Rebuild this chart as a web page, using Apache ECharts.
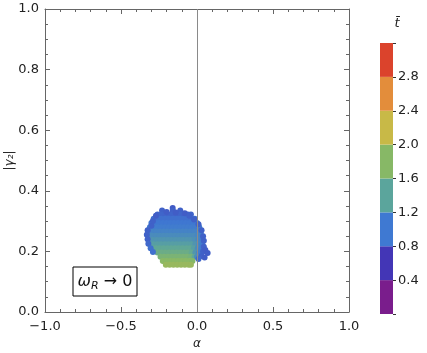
<!DOCTYPE html>
<html>
<head>
<meta charset="utf-8">
<script src="https://cdn.jsdelivr.net/npm/echarts@6.0.0/dist/echarts.min.js"></script>
<style>
  html, body { margin: 0; padding: 0; background: #fff; }
  #main { width: 427px; height: 353px; }
</style>
</head>
<body>
<div id="main"></div>
<script>
// point cloud: [alpha, |gamma2|, tbar]
const cloud = [
  [-0.16, 0.343, 0.7], [-0.23, 0.335, 0.75], [-0.16, 0.335, 0.75], [-0.11, 0.335, 0.75],
  [-0.26, 0.322, 0.78], [-0.235, 0.322, 0.78], [-0.21, 0.322, 0.78], [-0.185, 0.322, 0.78], [-0.16, 0.322, 0.78],
  [-0.135, 0.322, 0.78], [-0.11, 0.322, 0.78], [-0.085, 0.322, 0.78], [-0.06, 0.322, 0.78], [-0.04, 0.322, 0.78],
  [-0.285, 0.308, 0.85], [-0.26, 0.308, 0.85], [-0.235, 0.308, 0.85], [-0.21, 0.308, 0.85], [-0.185, 0.308, 0.85], [-0.16, 0.308, 0.85],
  [-0.135, 0.308, 0.85], [-0.11, 0.308, 0.85], [-0.085, 0.308, 0.85], [-0.06, 0.308, 0.85], [-0.035, 0.308, 0.85], [-0.015, 0.308, 0.85],
  [-0.3, 0.294, 0.9], [-0.275, 0.294, 0.9], [-0.25, 0.294, 0.9], [-0.225, 0.294, 0.9], [-0.2, 0.294, 0.9], [-0.175, 0.294, 0.9], [-0.15, 0.294, 0.9],
  [-0.125, 0.294, 0.9], [-0.1, 0.294, 0.9], [-0.075, 0.294, 0.9], [-0.05, 0.294, 0.9], [-0.025, 0.294, 0.9], [0.0, 0.294, 0.9],
  [-0.31, 0.28, 0.95], [-0.285, 0.28, 0.95], [-0.26, 0.28, 0.95], [-0.235, 0.28, 0.95], [-0.21, 0.28, 0.95], [-0.185, 0.28, 0.95], [-0.16, 0.28, 0.95],
  [-0.135, 0.28, 0.95], [-0.11, 0.28, 0.95], [-0.085, 0.28, 0.95], [-0.06, 0.28, 0.95], [-0.035, 0.28, 0.95], [-0.01, 0.28, 0.95], [0.015, 0.28, 0.95],
  [-0.32, 0.266, 1.02], [-0.295, 0.266, 1.02], [-0.27, 0.266, 1.02], [-0.245, 0.266, 1.02], [-0.22, 0.266, 1.02], [-0.195, 0.266, 1.02], [-0.17, 0.266, 1.02], [-0.145, 0.266, 1.02],
  [-0.12, 0.266, 1.02], [-0.095, 0.266, 1.02], [-0.07, 0.266, 1.02], [-0.045, 0.266, 1.02], [-0.02, 0.266, 1.02], [0.005, 0.266, 1.02], [0.025, 0.266, 1.0],
  [-0.32, 0.252, 1.1], [-0.295, 0.252, 1.1], [-0.27, 0.252, 1.1], [-0.245, 0.252, 1.1], [-0.22, 0.252, 1.1], [-0.195, 0.252, 1.1], [-0.17, 0.252, 1.1], [-0.145, 0.252, 1.1],
  [-0.12, 0.252, 1.1], [-0.095, 0.252, 1.1], [-0.07, 0.252, 1.1], [-0.045, 0.252, 1.1], [-0.02, 0.252, 1.1], [0.005, 0.252, 1.05], [0.03, 0.252, 1.0],
  [-0.315, 0.238, 1.2], [-0.29, 0.238, 1.2], [-0.265, 0.238, 1.2], [-0.24, 0.238, 1.2], [-0.215, 0.238, 1.2], [-0.19, 0.238, 1.2], [-0.165, 0.238, 1.2], [-0.14, 0.238, 1.2],
  [-0.115, 0.238, 1.2], [-0.09, 0.238, 1.2], [-0.065, 0.238, 1.2], [-0.04, 0.238, 1.2], [-0.015, 0.238, 1.15], [0.01, 0.238, 1.05], [0.035, 0.238, 0.95],
  [-0.31, 0.224, 1.3], [-0.285, 0.224, 1.3], [-0.26, 0.224, 1.3], [-0.235, 0.224, 1.3], [-0.21, 0.224, 1.3], [-0.185, 0.224, 1.3], [-0.16, 0.224, 1.3], [-0.135, 0.224, 1.3],
  [-0.11, 0.224, 1.3], [-0.085, 0.224, 1.3], [-0.06, 0.224, 1.3], [-0.035, 0.224, 1.3], [-0.01, 0.224, 1.2], [0.015, 0.224, 1.05], [0.035, 0.224, 0.95],
  [-0.295, 0.21, 1.4], [-0.27, 0.21, 1.42], [-0.245, 0.21, 1.42], [-0.22, 0.21, 1.42], [-0.195, 0.21, 1.42], [-0.17, 0.21, 1.42], [-0.145, 0.21, 1.42],
  [-0.12, 0.21, 1.42], [-0.095, 0.21, 1.42], [-0.07, 0.21, 1.42], [-0.045, 0.21, 1.42], [-0.02, 0.21, 1.3], [0.005, 0.21, 1.1], [0.03, 0.21, 0.95],
  [-0.26, 0.196, 1.55], [-0.235, 0.196, 1.55], [-0.21, 0.196, 1.55], [-0.185, 0.196, 1.55], [-0.16, 0.196, 1.55], [-0.135, 0.196, 1.55],
  [-0.11, 0.196, 1.55], [-0.085, 0.196, 1.55], [-0.06, 0.196, 1.55], [-0.035, 0.196, 1.45], [-0.01, 0.196, 1.2], [0.015, 0.196, 0.95],
  [-0.24, 0.182, 1.7], [-0.215, 0.182, 1.7], [-0.19, 0.182, 1.7], [-0.165, 0.182, 1.7], [-0.14, 0.182, 1.7], [-0.115, 0.182, 1.7],
  [-0.09, 0.182, 1.7], [-0.065, 0.182, 1.7], [-0.04, 0.182, 1.65], [-0.015, 0.182, 1.4], [0.0, 0.182, 1.1],
  [-0.225, 0.168, 1.85], [-0.2, 0.168, 1.85], [-0.175, 0.168, 1.85], [-0.15, 0.168, 1.85], [-0.125, 0.168, 1.85],
  [-0.1, 0.168, 1.85], [-0.075, 0.168, 1.85], [-0.05, 0.168, 1.85], [-0.03, 0.168, 1.8],
  [-0.205, 0.156, 1.95], [-0.18, 0.156, 1.95], [-0.155, 0.156, 1.95], [-0.13, 0.156, 1.95],
  [-0.105, 0.156, 1.95], [-0.08, 0.156, 1.95], [-0.055, 0.156, 1.95], [-0.04, 0.156, 1.95],
  // darker edge points
  [-0.325, 0.27, 0.75], [-0.33, 0.255, 0.75], [-0.325, 0.24, 0.75], [-0.32, 0.225, 0.8], [-0.305, 0.21, 0.85],
  [-0.29, 0.198, 0.85], [-0.3, 0.285, 0.75], [-0.29, 0.3, 0.75],
  [-0.27, 0.318, 0.72], [-0.2, 0.33, 0.72], [-0.14, 0.328, 0.72], [-0.08, 0.326, 0.72], [-0.05, 0.318, 0.75], [-0.02, 0.305, 0.75],
  [0.01, 0.29, 0.75], [0.03, 0.27, 0.75], [0.04, 0.25, 0.75], [0.045, 0.235, 0.75], [0.045, 0.215, 0.75], [0.04, 0.2, 0.75],
  [0.055, 0.205, 0.72], [0.07, 0.195, 0.72], [0.03, 0.185, 0.75], [0.01, 0.175, 0.8], [0.05, 0.18, 0.72]
];

const bandEdges = [0, 0.4, 0.8, 1.2, 1.6, 2.0, 2.4, 2.8, 3.2];
const bandColors = ['#7a1d8c', '#4336b6', '#3f79d2', '#5ba59c', '#87b866', '#c8b947', '#e38d3b', '#db432c'];

const fontFamily = 'DejaVu Sans';
const textColor = '#222';
const frameColor = '#666';

function fmt(v) {
  return (v < 0 ? '\u2212' : '') + Math.abs(v).toFixed(1);
}

const frameAxis = {
  axisLine: { onZero: false, lineStyle: { color: frameColor, width: 1 } },
  axisTick: { inside: true, length: 5, lineStyle: { color: frameColor } },
  splitLine: { show: false }
};

const colorbarSeries = bandColors.map(function (c, i) {
  return {
    type: 'bar',
    stack: 'cb',
    xAxisIndex: 2,
    yAxisIndex: 2,
    barWidth: '100%',
    silent: true,
    data: [bandEdges[i + 1] - bandEdges[i]],
    itemStyle: { color: c }
  };
});

const chart = echarts.init(document.getElementById('main'));
chart.setOption({
  animation: false,
  backgroundColor: '#fff',
  textStyle: { fontFamily: fontFamily },
  grid: [
    { left: 45, right: 78, top: 9, bottom: 41, containLabel: false, outerBoundsMode: 'none' },
    { left: 380, width: 13, top: 43, bottom: 39, containLabel: false, outerBoundsMode: 'none' }
  ],
  xAxis: [
    Object.assign({}, frameAxis, {
      type: 'value', gridIndex: 0, position: 'bottom', min: -1, max: 1, interval: 0.5,
      minorTick: { show: true, splitNumber: 5, length: 3, lineStyle: { color: frameColor } },
      axisLabel: { formatter: fmt, color: textColor, fontSize: 13, margin: 8, fontFamily: fontFamily },
      name: '\u03b1', nameLocation: 'middle', nameGap: 24,
      nameTextStyle: { fontStyle: 'italic', fontSize: 12, color: textColor, fontFamily: fontFamily }
    }),
    Object.assign({}, frameAxis, {
      type: 'value', gridIndex: 0, position: 'top', min: -1, max: 1, interval: 0.5,
      minorTick: { show: true, splitNumber: 5, length: 3, lineStyle: { color: frameColor } },
      axisLabel: { show: false }
    }),
    { type: 'category', gridIndex: 1, data: ['t'], show: false }
  ],
  yAxis: [
    Object.assign({}, frameAxis, {
      type: 'value', gridIndex: 0, position: 'left', min: 0, max: 1, interval: 0.2,
      minorTick: { show: true, splitNumber: 4, length: 3, lineStyle: { color: frameColor } },
      axisLabel: { formatter: fmt, color: textColor, fontSize: 13, margin: 6, fontFamily: fontFamily },
      name: '|\u03b3\u2082|', nameLocation: 'middle', nameGap: 29, nameRotate: 90, nameMoveOverlap: false,
      nameTextStyle: { fontStyle: 'italic', fontSize: 12, color: textColor, fontFamily: fontFamily }
    }),
    Object.assign({}, frameAxis, {
      type: 'value', gridIndex: 0, position: 'right', min: 0, max: 1, interval: 0.2,
      minorTick: { show: true, splitNumber: 4, length: 3, lineStyle: { color: frameColor } },
      axisLabel: { show: false }
    }),
    {
      type: 'value', gridIndex: 1, position: 'right', min: 0, max: 3.2, interval: 0.4,
      axisLine: { show: false },
      splitLine: { show: false },
      axisTick: { show: true, inside: false, length: 3, lineStyle: { color: '#333' } },
      axisLabel: {
        color: textColor, fontSize: 13, margin: 5, fontFamily: fontFamily,
        formatter: function (v) { return (v <= 0 || v >= 3.2) ? '' : v.toFixed(1); }
      }
    }
  ],
  visualMap: {
    type: 'continuous',
    show: false,
    min: 0,
    max: 3.2,
    dimension: 2,
    seriesIndex: 0,
    inRange: { color: bandColors }
  },
  series: [
    {
      type: 'scatter',
      xAxisIndex: 0,
      yAxisIndex: 0,
      symbolSize: 6,
      data: cloud,
      silent: true,
      itemStyle: { opacity: 1, borderWidth: 0 },
      markLine: {
        silent: true,
        symbol: 'none',
        label: { show: false },
        lineStyle: { color: '#8a8a8a', width: 1, type: 'solid' },
        data: [{ xAxis: 0 }]
      }
    }
  ].concat(colorbarSeries),
  graphic: [
    {
      type: 'rect',
      shape: { x: 73, y: 267, width: 64, height: 29 },
      style: { fill: '#fff', stroke: '#000', lineWidth: 1 },
      z: 100
    },
    {
      type: 'text',
      x: 105, y: 282,
      z: 101,
      style: {
        text: '{w|\u03c9}{s|R}{a| \u2192 0}',
        align: 'center',
        verticalAlign: 'middle',
        rich: {
          w: { fontSize: 16, fontStyle: 'italic', fontFamily: fontFamily, fill: '#111' },
          s: { fontSize: 11, fontStyle: 'italic', fontFamily: fontFamily, fill: '#111', padding: [8, 0, 0, 0] },
          a: { fontSize: 16, fontFamily: fontFamily, fill: '#111' }
        }
      }
    },
    {
      type: 'text',
      x: 397, y: 24,
      style: {
        text: 't\u0304',
        align: 'center',
        verticalAlign: 'middle',
        fontSize: 13,
        fontStyle: 'italic',
        fontFamily: fontFamily,
        fill: textColor
      }
    }
  ]
});
</script>
</body>
</html>
